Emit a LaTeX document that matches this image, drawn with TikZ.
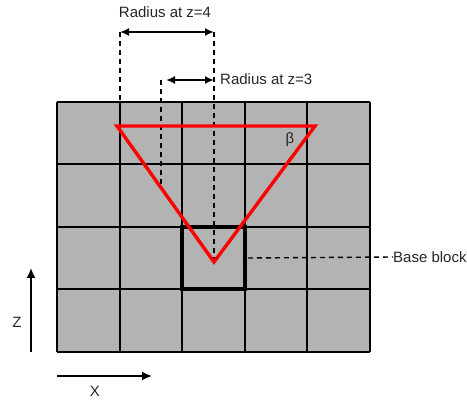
\documentclass[tikz,border=0pt]{standalone}
\usepackage{fontspec}
\setmainfont{Liberation Sans}
\usetikzlibrary{arrows.meta}
\definecolor{cellgray}{RGB}{179,179,179}
\tikzset{
  gridline/.style={line width=2pt, black},
  basebox/.style={line width=4.4pt, black},
  redtri/.style={line width=3.4pt, red, line join=miter},
  dimline/.style={line width=1.4pt, dash pattern=on 5pt off 4pt},
  dimarrow/.style={line width=1.7pt, {Latex[length=9pt,width=8pt]}-{Latex[length=9pt,width=8pt]}},
  axisarrow/.style={line width=1.7pt, -{Latex[length=10pt,width=9pt]}},
  lbl/.style={font=\fontsize{15}{17}\selectfont, text=black!85, inner sep=0pt}
}
\begin{document}
\begin{tikzpicture}[x=1pt,y=-1pt]
\useasboundingbox (0,0) rectangle (467,403);
% grid
\fill[cellgray] (57,102) rectangle (370,352);
\foreach \x in {57,120,182,245,307,370}
  \draw[gridline] (\x,102) -- (\x,352);
\foreach \y in {102,164,227,289,352}
  \draw[gridline] (57,\y) -- (370,\y);
% base block
\draw[basebox] (182,227) rectangle (245,289);
% triangle
\coordinate (tl) at (117,126);
\coordinate (tr) at (315,126);
\coordinate (ap) at (214,262);
\coordinate (mid) at (161,187.5);
% dashed guides
\coordinate (d4l) at (120,32);
\coordinate (d4r) at (214,32);
\coordinate (d3l) at (161,80);
\coordinate (d3r) at (214,80);
\draw[dimline] (d4l) -- (120,126);
\draw[dimline] (d4r) -- (ap);
\draw[dimline] (d3l) -- (mid);
\draw[redtri] (tl) -- (tr) -- (ap) -- cycle;
% dimension arrows
\draw[dimarrow] (d4l) -- (d4r);
\draw[dimarrow] (166,80) -- (d3r);
\node[lbl] (r4) at (165,12) {Radius at z=4};
\node[lbl, anchor=west] (r3) at (220,79) {Radius at z=3};
% beta
\node[lbl] (beta) at (290,140) {β};
% base block label
\node[lbl, anchor=west] (bb) at (393,257) {Base block};
\coordinate (bbs) at (248,258);
\draw[dimline] (bbs) -- (bb.west);
% axes
\coordinate (z0) at (31,352);
\coordinate (z1) at (31,268);
\draw[axisarrow] (z0) -- (z1);
\node[lbl] (zl) at (17,322) {Z};
\coordinate (x0) at (57,376);
\coordinate (x1) at (152,376);
\draw[axisarrow] (x0) -- (x1);
\node[lbl] (xl) at (95,391) {X};
\end{tikzpicture}
\end{document}
